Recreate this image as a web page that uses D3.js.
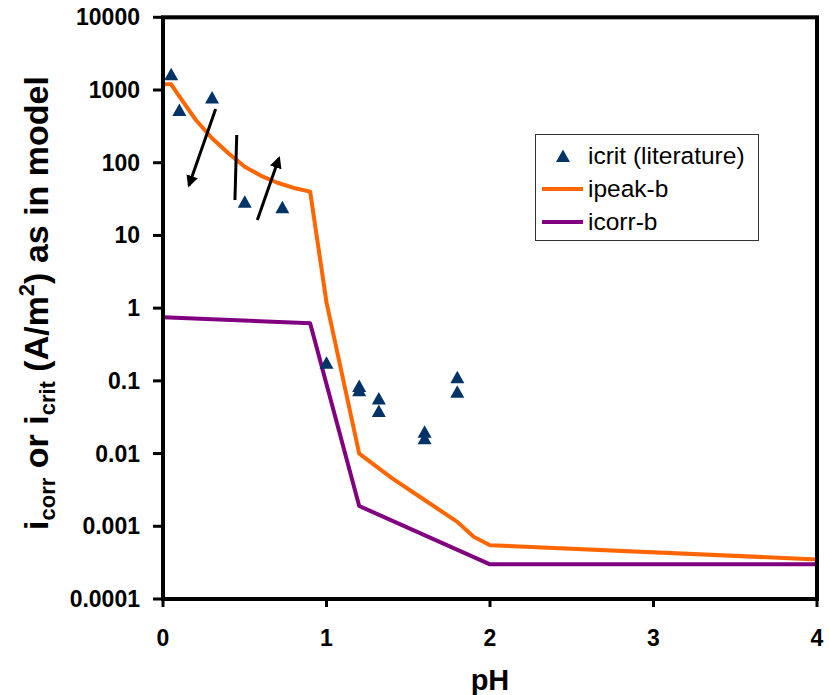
<!DOCTYPE html>
<html lang="en">
<head>
  <meta charset="UTF-8">
  <title>icorr / icrit vs pH</title>
  <script src="https://d3js.org/d3.v7.min.js"></script>
  <style>
    body { margin: 0; background: #fff; }
    text { font-family: Arial, "Liberation Sans", sans-serif; }
  </style>
</head>
<body>
  <svg id="chart" width="829" height="695"></svg>

  <script>
    // icrit literature points (triangles)
    const critPH = [0.05, 0.1, 0.3, 0.5, 0.73, 1.0, 1.2, 1.2, 1.32, 1.32, 1.6, 1.6, 1.8, 1.8];
    const critI  = [1650, 530, 790, 29, 24.5, 0.177, 0.085, 0.074, 0.057, 0.0385, 0.02, 0.0162, 0.112, 0.071];

    // ipeak-b model curve
    const peakPH = [0, 0.05, 0.1, 0.2, 0.3, 0.4, 0.5, 0.6, 0.7, 0.8, 0.9, 1.0, 1.2, 1.4, 1.6, 1.8, 1.9, 2.0, 4.0];
    const peakI  = [1200, 1200, 820, 390, 217, 135, 88, 66, 53, 45, 40, 1.2, 0.01, 0.0046, 0.0023, 0.00115, 0.00072, 0.00055, 0.00035];

    // icorr-b model curve
    const corrPH = [0, 0.9, 1.2, 2.0, 4.0];
    const corrI  = [0.75, 0.62, 0.0019, 0.0003, 0.0003];

    // axis ticks
    const xTicks = [0, 1, 2, 3, 4];
    const yTicks = [10000, 1000, 100, 10, 1, 0.1, 0.01, 0.001, 0.0001];
    const yTickLabels = ["10000", "1000", "100", "10", "1", "0.1", "0.01", "0.001", "0.0001"];

    // annotation arrows in data units [pH, i]
    const arrows = [
      { from: [0.322, 548], to: [0.159, 49], head: true },
      { from: [0.451, 240], to: [0.440, 30.7], head: false },
      { from: [0.577, 16.3], to: [0.709, 115], head: true }
    ];

    const legendItems = [
      { label: "icrit (literature)", type: "tri" },
      { label: "ipeak-b", type: "line", color: "#ff6600" },
      { label: "icorr-b", type: "line", color: "#800080" }
    ];

    const svg = d3.select("#chart");
    const plotL = 163, plotR = 817, plotT = 17.3, plotB = 599;

    const x = d3.scaleLinear().domain([0, 4]).range([plotL, plotR]);
    const y = d3.scaleLog().domain([0.0001, 10000]).range([plotB, plotT]);

    const navy = "#003366";

    // model lines
    const line = d3.line().x(d => x(d[0])).y(d => y(d[1]));
    svg.append("path")
      .datum(d3.zip(corrPH, corrI))
      .attr("d", line)
      .attr("fill", "none")
      .attr("stroke", "#800080")
      .attr("stroke-width", 4)
      .attr("stroke-linejoin", "round");
    svg.append("path")
      .datum(d3.zip(peakPH, peakI))
      .attr("d", line)
      .attr("fill", "none")
      .attr("stroke", "#ff6600")
      .attr("stroke-width", 4)
      .attr("stroke-linejoin", "round");

    // triangles
    const tri = "M0,-6.5L7,6L-7,6Z";
    svg.append("g").selectAll("path")
      .data(d3.zip(critPH, critI))
      .join("path")
      .attr("d", tri)
      .attr("transform", d => `translate(${x(d[0])},${y(d[1])})`)
      .attr("fill", navy);

    // arrows
    svg.append("defs").append("marker")
      .attr("id", "head")
      .attr("viewBox", "0 0 10 10")
      .attr("refX", 8).attr("refY", 5)
      .attr("markerWidth", 4).attr("markerHeight", 4)
      .attr("markerUnits", "strokeWidth")
      .attr("orient", "auto")
      .append("path")
      .attr("d", "M0,0L10,5L0,10Z")
      .attr("fill", "#000");

    svg.append("g").selectAll("line")
      .data(arrows)
      .join("line")
      .attr("x1", d => x(d.from[0])).attr("y1", d => y(d.from[1]))
      .attr("x2", d => x(d.to[0])).attr("y2", d => y(d.to[1]))
      .attr("stroke", "#000")
      .attr("stroke-width", 3)
      .attr("marker-end", d => d.head ? "url(#head)" : null);

    // frame
    svg.append("rect")
      .attr("x", plotL).attr("y", plotT)
      .attr("width", plotR - plotL).attr("height", plotB - plotT)
      .attr("fill", "none")
      .attr("stroke", "#000")
      .attr("stroke-width", 4);

    // x axis ticks + labels
    const xg = svg.append("g");
    xg.selectAll("line")
      .data(xTicks)
      .join("line")
      .attr("x1", d => x(d)).attr("x2", d => x(d))
      .attr("y1", plotB).attr("y2", plotB + 8)
      .attr("stroke", "#000").attr("stroke-width", 3);
    xg.selectAll("text")
      .data(xTicks)
      .join("text")
      .attr("x", d => x(d))
      .attr("y", 646)
      .attr("text-anchor", "middle")
      .attr("font-size", 23)
      .attr("font-weight", "bold")
      .text(d => d);

    // y axis ticks + labels
    const yg = svg.append("g");
    yg.selectAll("line")
      .data(yTicks)
      .join("line")
      .attr("x1", plotL - 10).attr("x2", plotL)
      .attr("y1", d => y(d)).attr("y2", d => y(d))
      .attr("stroke", "#000").attr("stroke-width", 3);
    yg.selectAll("text")
      .data(yTicks)
      .join("text")
      .attr("x", 140)
      .attr("y", d => y(d) + 8)
      .attr("text-anchor", "end")
      .attr("font-size", 23)
      .attr("font-weight", "bold")
      .text((d, i) => yTickLabels[i]);

    // axis titles
    svg.append("text")
      .attr("x", 490).attr("y", 690)
      .attr("text-anchor", "middle")
      .attr("font-size", 29)
      .attr("font-weight", "bold")
      .text("pH");

    const yt = svg.append("text")
      .attr("transform", "translate(48,303) rotate(-90)")
      .attr("text-anchor", "middle")
      .attr("font-size", 34)
      .attr("font-weight", "bold");
    yt.append("tspan").text("i");
    yt.append("tspan").attr("font-size", 22).attr("dy", 7).text("corr");
    yt.append("tspan").attr("dy", -7).text(" or i");
    yt.append("tspan").attr("font-size", 22).attr("dy", 7).text("crit");
    yt.append("tspan").attr("dy", -7).text(" (A/m");
    yt.append("tspan").attr("font-size", 22).attr("dy", -14).text("2");
    yt.append("tspan").attr("dy", 14).text(") as in model");

    // legend
    const lg = svg.append("g");
    lg.append("rect")
      .attr("x", 535.5).attr("y", 134.5)
      .attr("width", 223).attr("height", 106)
      .attr("fill", "#fff")
      .attr("stroke", "#333")
      .attr("stroke-width", 1);
    const rows = lg.selectAll("g")
      .data(legendItems)
      .join("g")
      .attr("transform", (d, i) => `translate(0,${156 + i * 33})`);
    rows.filter(d => d.type === "tri")
      .append("path")
      .attr("d", tri)
      .attr("transform", "translate(563,0)")
      .attr("fill", navy);
    rows.filter(d => d.type === "line")
      .append("line")
      .attr("x1", 542).attr("x2", 583)
      .attr("stroke", d => d.color)
      .attr("stroke-width", 4);
    rows.append("text")
      .attr("x", 588).attr("y", 8)
      .attr("font-size", 24.5)
      .text(d => d.label);
  </script>
</body>
</html>
